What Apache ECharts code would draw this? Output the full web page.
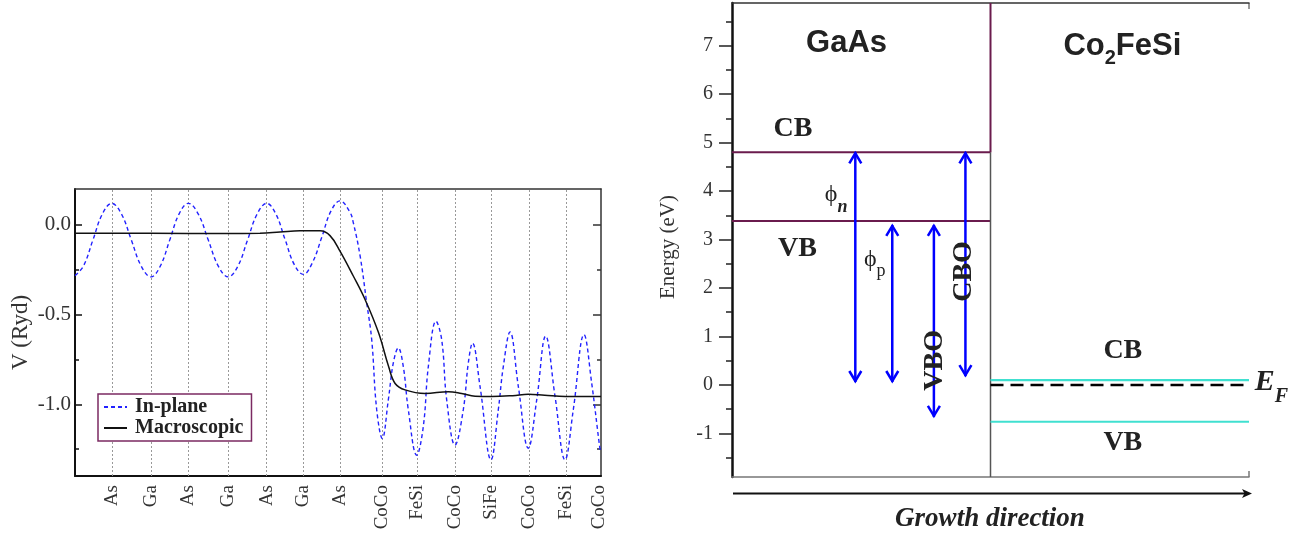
<!DOCTYPE html>
<html><head><meta charset="utf-8">
<script src="https://cdn.jsdelivr.net/npm/echarts@6/dist/echarts.min.js"></script>
<style>html,body{margin:0;padding:0;background:#fff}#c{width:1308px;height:536px}</style>
</head><body><div id="c"></div>
<script>
// ---------- LEFT PANEL DATA ----------
const atomLabels = ['As','Ga','As','Ga','As','Ga','As','CoCo','FeSi','CoCo','SiFe','CoCo','FeSi','CoCo'];
const atomPositions = [0.977,2.023,3.016,4.080,5.102,6.077,7.053,8.171,9.103,10.114,11.080,12.084,13.077,13.95];
const gridLinePositions = [0.977,2.023,3.016,4.080,5.102,6.077,7.053,8.171,9.103,10.114,11.080,12.084,13.077];
const inPlaneX = [0.000,0.224,0.476,0.727,0.977,1.238,1.501,1.762,2.023,2.270,2.521,2.768,3.016,3.282,3.548,3.814,4.080,4.336,4.591,4.847,5.102,5.347,5.589,5.834,6.077,6.321,6.566,6.808,7.053,7.320,7.407,7.586,7.764,7.897,8.030,8.179,8.339,8.472,8.605,8.738,8.871,9.095,9.270,9.404,9.609,9.760,9.893,10.114,10.335,10.468,10.580,10.780,11.073,11.267,11.400,11.578,11.799,12.065,12.289,12.528,12.776,13.042,13.263,13.548,13.753,13.973,14.0];
const inPlaneV = [-0.283,-0.23,-0.085,0.06,0.12,0.06,-0.085,-0.23,-0.29,-0.23,-0.085,0.06,0.12,0.06,-0.085,-0.23,-0.29,-0.23,-0.085,0.06,0.12,0.06,-0.08,-0.22,-0.276,-0.21,-0.07,0.075,0.134,0.07,0.013,-0.17,-0.435,-0.64,-1.03,-1.19,-0.976,-0.77,-0.686,-0.79,-1.03,-1.284,-1.125,-0.79,-0.537,-0.64,-0.976,-1.228,-1.03,-0.77,-0.659,-0.90,-1.31,-1.03,-0.79,-0.597,-0.90,-1.245,-0.976,-0.62,-0.955,-1.31,-1.03,-0.612,-0.884,-1.25,-1.27];
const macroX = [0,2.0,4.0,4.924,5.456,5.989,6.521,6.787,7.053,7.407,7.72,8.08,8.347,8.52,8.786,9.32,9.936,10.29,10.65,11.09,11.65,12.065,12.5,13.05,14.0];
const macroV = [-0.047,-0.047,-0.048,-0.047,-0.04,-0.033,-0.033,-0.06,-0.146,-0.285,-0.416,-0.602,-0.79,-0.884,-0.92,-0.94,-0.93,-0.94,-0.955,-0.957,-0.952,-0.944,-0.95,-0.957,-0.957];
const vMajorTicks = [-1.0,-0.5,0.0];
const vMinorTicks = [-1.25,-0.75,-0.25];

// ---------- RIGHT PANEL DATA ----------
const energyTicks = [-1,0,1,2,3,4,5,6,7];
const energyMinorTicks = [-1.5,-0.5,0.5,1.5,2.5,3.5,4.5,5.5,6.5,7.5];
const gaasCB = 4.8, gaasVB = 3.38;
const cfsCB = 0.1, cfsVB = -0.76, fermiLevel = 0;
// arrows: [x, lower energy, upper energy]
const arrowX = [0.477, 0.620, 0.781, 0.903];
const arrowLow = [0.06, 0.06, -0.66, 0.18];
const arrowHigh = [4.8, 3.3, 3.3, 4.8];
// annotation texts and anchor points (data coords)
const annTexts = ['GaAs','{a|Co}{s|2}{a|FeSi}','CB','VB','CB','VB','{a|\u03d5}{s|n}','{a|\u03d5}{s|p}','VBO','CBO','{a|E}{s|F}'];
const annX = [0.443,1.510,0.236,0.253,1.512,1.512,0.403,0.552,0.784,0.896,2.087];
const annY = [7.05,6.99,5.277,2.80,0.71,-1.20,3.917,2.59,0.506,2.34,0.056];

const serif = '"Liberation Serif","DejaVu Serif",serif';
const sans = '"Liberation Sans",Arial,sans-serif';
const purple = '#6a1b4d';

const annStyles = [
  {font:'bold 31px '+sans},
  {rich:{a:{fontFamily:sans,fontWeight:'bold',fontSize:31,lineHeight:44,verticalAlign:'middle',fill:'#222'},s:{fontFamily:sans,fontWeight:'bold',fontSize:20,lineHeight:20,verticalAlign:'bottom',fill:'#222'}}},
  {font:'bold 28px '+serif},
  {font:'bold 28px '+serif},
  {font:'bold 28px '+serif},
  {font:'bold 28px '+serif},
  {rich:{a:{fontFamily:serif,fontSize:24,lineHeight:42,verticalAlign:'middle',fill:'#222'},s:{fontFamily:serif,fontWeight:'bold',fontStyle:'italic',fontSize:18,lineHeight:18,verticalAlign:'bottom',fill:'#222'}}},
  {rich:{a:{fontFamily:serif,fontSize:24,lineHeight:42,verticalAlign:'middle',fill:'#222'},s:{fontFamily:serif,fontSize:18,lineHeight:18,verticalAlign:'bottom',fill:'#222'}}},
  {font:'bold 28px '+serif, rot:Math.PI/2},
  {font:'bold 28px '+serif, rot:Math.PI/2},
  {rich:{a:{fontFamily:serif,fontWeight:'bold',fontStyle:'italic',fontSize:30,lineHeight:50,verticalAlign:'middle',fill:'#222'},s:{fontFamily:serif,fontWeight:'bold',fontStyle:'italic',fontSize:20,lineHeight:20,verticalAlign:'bottom',fill:'#222'}}}
];

const chart = echarts.init(document.getElementById('c'), null, {renderer:'canvas'});

const zip = (xs, ys) => xs.map((x,i)=>[x, ys[i]]);
const seg = (x0,x1,y) => [[x0,y],[x1,y]];

const tickLabelStyle = {fontFamily:serif, fontSize:21, color:'#333'};

const option = {
  animation:false,
  backgroundColor:'#fff',
  grid:[
    {left:75, top:189, width:526, height:287},
    {left:732, top:3, width:517, height:474}
  ],
  legend:{
    data:['In-plane','Macroscopic'],
    left:98, top:394, orient:'vertical',
    backgroundColor:'#fff', borderColor:'#7b2a62', borderWidth:1.5,
    padding:[3,8,3,5], itemGap:1, itemWidth:23, itemHeight:14,
    itemStyle:{color:'rgba(0,0,0,0)', borderColor:'rgba(0,0,0,0)', borderWidth:0, opacity:0},
    textStyle:{fontFamily:serif, fontWeight:'bold', fontSize:20, color:'#222', padding:[0,0,0,3]}
  },
  xAxis:[
    {gridIndex:0, type:'value', min:0, max:14, position:'bottom',
     axisLine:{show:true, onZero:false, lineStyle:{color:'#111', width:2}},
     axisTick:{show:false}, splitLine:{show:false},
     axisLabel:{show:true, customValues:atomPositions, rotate:90, margin:9,
       fontFamily:serif, fontSize:19, color:'#333',
       formatter:(v)=>{const i=atomPositions.findIndex(p=>Math.abs(p-v)<1e-6); return i>=0?atomLabels[i]:'';}}},
    {gridIndex:0, type:'value', min:0, max:14, position:'top',
     axisLine:{show:true, onZero:false, lineStyle:{color:'#333', width:1.5}},
     axisTick:{show:false}, axisLabel:{show:false}, splitLine:{show:false}},
    {gridIndex:1, type:'value', min:0, max:2, position:'bottom',
     axisLine:{show:true, onZero:false, lineStyle:{color:'#777', width:1.5}},
     axisTick:{show:false}, axisLabel:{show:false}, splitLine:{show:false}},
    {gridIndex:1, type:'value', min:0, max:2, position:'top',
     axisLine:{show:true, onZero:false, lineStyle:{color:'#333', width:1.5}},
     axisTick:{show:false}, axisLabel:{show:false}, splitLine:{show:false}}
  ],
  yAxis:[
    {gridIndex:0, type:'value', min:-1.4, max:0.2, position:'left',
     name:'V (Ryd)', nameLocation:'middle', nameGap:43,
     nameTextStyle:{fontFamily:serif, fontSize:23, color:'#333'},
     axisLine:{show:true, onZero:false, lineStyle:{color:'#111', width:2}},
     axisTick:{show:true, inside:true, length:7, customValues:vMajorTicks, lineStyle:{color:'#111', width:1.5}},
     axisLabel:{show:true, customValues:vMajorTicks, margin:4, ...tickLabelStyle, formatter:(v)=>v.toFixed(1)},
     splitLine:{show:false}},
    {gridIndex:0, type:'value', min:-1.4, max:0.2, position:'left',
     axisLine:{show:false, onZero:false},
     axisTick:{show:true, inside:true, length:4, customValues:vMinorTicks, lineStyle:{color:'#111', width:1.5}},
     axisLabel:{show:false}, splitLine:{show:false}},
    {gridIndex:0, type:'value', min:-1.4, max:0.2, position:'right',
     axisLine:{show:true, onZero:false, lineStyle:{color:'#333', width:1.5}},
     axisTick:{show:true, inside:true, length:8, customValues:vMajorTicks, lineStyle:{color:'#333', width:1.5}},
     axisLabel:{show:false}, splitLine:{show:false}},
    {gridIndex:0, type:'value', min:-1.4, max:0.2, position:'right',
     axisLine:{show:false, onZero:false},
     axisTick:{show:true, inside:true, length:4, customValues:vMinorTicks, lineStyle:{color:'#333', width:1.5}},
     axisLabel:{show:false}, splitLine:{show:false}},
    {gridIndex:1, type:'value', min:-1.9, max:7.88, position:'left',
     name:'Energy (eV)', nameLocation:'middle', nameGap:53,
     nameTextStyle:{fontFamily:serif, fontSize:21, color:'#333', padding:[0,0,0,-14]},
     axisLine:{show:true, onZero:false, lineStyle:{color:'#111', width:2.5}},
     axisTick:{show:true, inside:false, length:13, customValues:energyTicks, lineStyle:{color:'#222', width:1.5}},
     axisLabel:{show:true, customValues:energyTicks, margin:19, fontFamily:serif, fontSize:20, color:'#333'},
     splitLine:{show:false}},
    {gridIndex:1, type:'value', min:-1.9, max:7.88, position:'left',
     axisLine:{show:false, onZero:false},
     axisTick:{show:true, inside:false, length:6, customValues:energyMinorTicks, lineStyle:{color:'#222', width:1.5}},
     axisLabel:{show:false}, splitLine:{show:false}}
  ],
  series:[
    {name:'In-plane', type:'line', xAxisIndex:0, yAxisIndex:0, data:zip(inPlaneX, inPlaneV),
     smooth:0.4, symbol:'none', z:3,
     lineStyle:{color:'#2222ff', width:1.4, type:[4,3]}, itemStyle:{color:'#2222ff'},
     markLine:{silent:true, symbol:'none', label:{show:false}, z:1,
       lineStyle:{color:'#999', width:1, type:[2,2]},
       data:gridLinePositions.map(v=>({xAxis:v}))}},
    {name:'Macroscopic', type:'line', xAxisIndex:0, yAxisIndex:0, data:zip(macroX, macroV),
     smooth:0.4, symbol:'none', z:4,
     lineStyle:{color:'#111', width:1.5}, itemStyle:{color:'#111'}},

    // right panel levels
    {type:'line', xAxisIndex:2, yAxisIndex:4, data:seg(0,1,gaasCB), symbol:'none', lineStyle:{color:purple, width:2}},
    {type:'line', xAxisIndex:2, yAxisIndex:4, data:seg(0,1,gaasVB), symbol:'none', lineStyle:{color:purple, width:2}},
    {type:'line', xAxisIndex:2, yAxisIndex:4, data:[[1,-1.9],[1,gaasCB]], symbol:'none', lineStyle:{color:'#555', width:1.5}},
    {type:'line', xAxisIndex:2, yAxisIndex:4, data:[[1,gaasCB],[1,7.88]], symbol:'none', lineStyle:{color:purple, width:2}},
    {type:'line', xAxisIndex:2, yAxisIndex:4, data:seg(1,2,cfsCB), symbol:'none', lineStyle:{color:'#40e0d0', width:2.2}},
    {type:'line', xAxisIndex:2, yAxisIndex:4, data:seg(1,2,cfsVB), symbol:'none', lineStyle:{color:'#40e0d0', width:2.2}},
    {type:'line', xAxisIndex:2, yAxisIndex:4, data:seg(1,2,fermiLevel), symbol:'none', z:3, lineStyle:{color:'#000', width:2.5, type:[13,7]}},

    // arrows
    {type:'custom', xAxisIndex:2, yAxisIndex:4, z:5,
     data:arrowX.map((x,i)=>[x, arrowLow[i], arrowHigh[i]]),
     encode:{x:0, y:[1,2]},
     renderItem:(params, api)=>{
       const x = api.value(0);
       const pl = api.coord([x, api.value(1)]);
       const ph = api.coord([x, api.value(2)]);
       const hw = 6, hh = 11, st = {stroke:'#0000ff', lineWidth:2.5, fill:null};
       return {type:'group', children:[
         {type:'line', shape:{x1:pl[0], y1:pl[1], x2:ph[0], y2:ph[1]}, style:st},
         {type:'polyline', shape:{points:[[ph[0]-hw, ph[1]+hh],[ph[0], ph[1]+1],[ph[0]+hw, ph[1]+hh]]}, style:st},
         {type:'polyline', shape:{points:[[pl[0]-hw, pl[1]-hh],[pl[0], pl[1]-1],[pl[0]+hw, pl[1]-hh]]}, style:st}
       ]};
     }},

    // annotations
    {type:'custom', xAxisIndex:2, yAxisIndex:4, z:10, clip:false,
     data:annX.map((x,i)=>[x, annY[i], i]),
     encode:{x:0, y:1},
     renderItem:(params, api)=>{
       const i = api.value(2);
       const p = api.coord([api.value(0), api.value(1)]);
       const s = annStyles[i];
       const style = {text:annTexts[i], align:'center', verticalAlign:'middle', fill:'#222'};
       if (s.font) style.font = s.font;
       if (s.rich) style.rich = s.rich;
       return {type:'text', x:p[0], y:p[1], rotation:s.rot||0, style};
     }}
  ],
  graphic:[
    {type:'line', shape:{x1:733, y1:493.5, x2:1246, y2:493.5}, style:{stroke:'#111', lineWidth:2}},
    {type:'polygon', shape:{points:[[1252,493.5],[1242,489],[1244.5,493.5],[1242,498]]}, style:{fill:'#111'}},
    {type:'line', shape:{x1:1249, y1:3, x2:1249, y2:9}, style:{stroke:'#555', lineWidth:1.2}},
    {type:'line', shape:{x1:1249, y1:477, x2:1249, y2:471}, style:{stroke:'#555', lineWidth:1.2}},
    {type:'text', x:990, y:519, style:{text:'Growth direction', font:'italic bold 27px '+serif, fill:'#222', align:'center', verticalAlign:'middle'}}
  ]
};
chart.setOption(option);
</script>
</body></html>
